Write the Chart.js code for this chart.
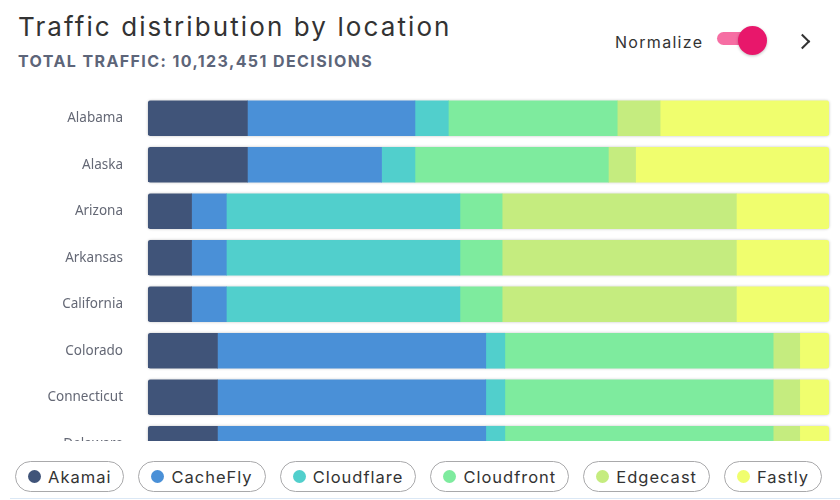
<!DOCTYPE html>
<html>
<head>
<meta charset="utf-8">
<script src="https://cdn.jsdelivr.net/npm/chart.js@4.4.1/dist/chart.umd.min.js"></script>
<style>
  body { margin: 0; width: 840px; height: 500px; background: #fff; position: relative; overflow: hidden; font-family: Inter, "Open Sans", sans-serif; }
  .title { position: absolute; left: 18px; top: 11px; font-size: 26px; font-weight: 400; color: #333; white-space: nowrap; letter-spacing: 2.1px; }
  .subtitle { position: absolute; left: 18px; top: 51px; font-size: 16px; font-weight: 700; color: #5d6579; white-space: nowrap; letter-spacing: 1.4px; }
  .normalize { position: absolute; left: 615px; top: 32px; font-size: 16px; color: #333; letter-spacing: 1.3px; }
  .track { position: absolute; left: 717px; top: 32px; width: 40px; height: 13px; border-radius: 7px; background: #f66ea3; }
  .knob { position: absolute; left: 738px; top: 26px; width: 29px; height: 29px; border-radius: 50%; background: #e8176b; box-shadow: 0 1px 3px rgba(0,0,0,0.25); }
  .chev { position: absolute; left: 797px; top: 36px; width: 9px; height: 9px; border-right: 2.2px solid #333; border-top: 2.2px solid #333; transform: rotate(45deg); }
  .wrap { position: absolute; left: 0; top: 95px; width: 840px; height: 346px; overflow: hidden; }
  .legend { position: absolute; left: 15px; top: 461px; display: flex; gap: 14px; }
  .pill { height: 29px; border: 1.3px solid #a9a9ab; border-radius: 16px; display: flex; align-items: center; padding: 0 12px 0 12px; font-size: 16.5px; color: #333; letter-spacing: 1px; }
  .dot { width: 13px; height: 13px; border-radius: 50%; margin-right: 7px; }
  .rule { position: absolute; left: 10px; right: 0; top: 498px; height: 1px; background: #dbe8f5; }
</style>
</head>
<body>
<div class="title">Traffic distribution by location</div>
<div class="subtitle">TOTAL TRAFFIC: 10,123,451 DECISIONS</div>
<div class="normalize">Normalize</div>
<div class="track"></div>
<div class="knob"></div>
<div class="chev"></div>
<div class="wrap"><canvas id="chart" width="840" height="372"></canvas></div>
<div class="legend" id="legend"></div>
<div class="rule"></div>
<script>
// states shown in the chart
let states = ['Alabama', 'Alaska', 'Arizona', 'Arkansas', 'California', 'Colorado', 'Connecticut', 'Delaware'];

// share of traffic per CDN (normalized, %)
let akamai     = [14.6, 14.6,  6.4,  6.4,  6.4, 10.2, 10.2, 10.2];
let cacheFly   = [24.6, 19.7,  5.1,  5.1,  5.1, 39.4, 39.4, 39.4];
let cloudflare = [ 4.9,  4.9, 34.3, 34.3, 34.3,  2.8,  2.8,  2.8];
let cloudfront = [24.8, 28.4,  6.2,  6.2,  6.2, 39.4, 39.4, 39.4];
let edgecast   = [ 6.3,  4.0, 34.4, 34.4, 34.4,  3.9,  3.9,  3.9];
let fastly     = [24.8, 28.4, 13.6, 13.6, 13.6,  4.3,  4.3,  4.3];

let cdnNames = ['Akamai', 'CacheFly', 'Cloudflare', 'Cloudfront', 'Edgecast', 'Fastly'];
let cdnColors = ['#405479', '#4a90d7', '#51cfcc', '#7eeb9e', '#c5ec7f', '#f0fe6e'];
let series = [akamai, cacheFly, cloudflare, cloudfront, edgecast, fastly];

let datasets = series.map((values, i) => {
  let radius = 0;
  if (i === 0) radius = { topLeft: 3, bottomLeft: 3, topRight: 0, bottomRight: 0 };
  if (i === series.length - 1) radius = { topLeft: 0, bottomLeft: 0, topRight: 3, bottomRight: 3 };
  return {
    label: cdnNames[i],
    data: values,
    backgroundColor: cdnColors[i],
    borderWidth: 0,
    borderSkipped: false,
    borderRadius: radius,
    barThickness: 35
  };
});

// soft outline behind each full bar
let barShadow = {
  id: 'barShadow',
  beforeDatasetsDraw(chart) {
    let c = chart.ctx;
    let first = chart.getDatasetMeta(0).data;
    let last = chart.getDatasetMeta(series.length - 1).data;
    c.save();
    c.shadowColor = 'rgba(0,0,0,0.28)';
    c.shadowBlur = 3;
    c.fillStyle = '#fff';
    first.forEach((bar, i) => {
      let left = bar.base;
      let right = last[i].x;
      let h = bar.height;
      c.beginPath();
      c.roundRect(left, bar.y - h / 2, right - left, h, 3);
      c.fill();
    });
    c.restore();
  }
};

new Chart(document.getElementById('chart'), {
  type: 'bar',
  data: { labels: states, datasets: datasets },
  options: {
    indexAxis: 'y',
    responsive: false,
    animation: false,
    layout: { padding: { left: 0, right: 11, top: 0, bottom: 0 } },
    plugins: { legend: { display: false }, tooltip: { enabled: false } },
    scales: {
      x: { stacked: true, min: 0, max: 100, display: false },
      y: {
        stacked: true,
        grid: { display: false, drawTicks: false },
        border: { display: false },
        afterFit: function(scale) {
          scale.width = 148;
          scale.paddingTop = 0;
          scale.paddingBottom = 0;
        },
        ticks: { padding: 25, color: '#646875', font: { family: 'Noto Sans', size: 13.5 } }
      }
    }
  },
  plugins: [barShadow]
});

// pill legend
let legend = document.getElementById('legend');
cdnNames.forEach((name, i) => {
  let pill = document.createElement('div');
  pill.className = 'pill';
  pill.innerHTML = '<span class="dot" style="background:' + cdnColors[i] + '"></span>' + name;
  legend.appendChild(pill);
});
</script>
</body>
</html>
